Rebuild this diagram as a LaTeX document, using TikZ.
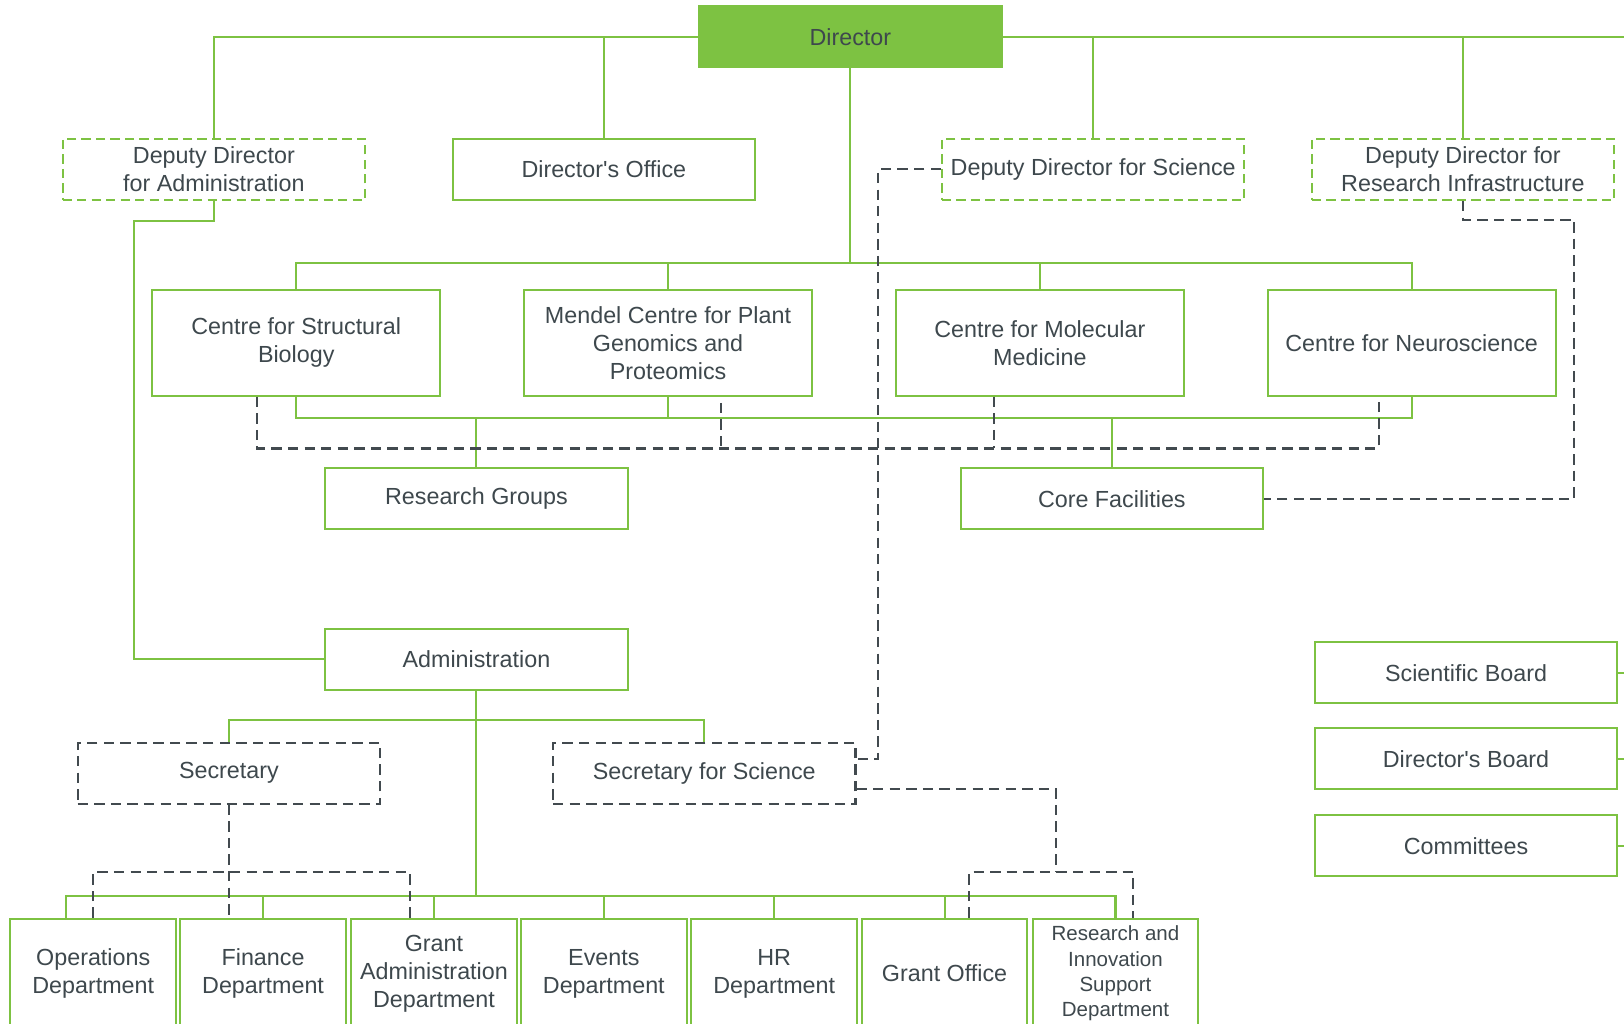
\documentclass[tikz,border=0pt]{standalone}
\usepackage{fontspec}
\setmainfont{Liberation Sans}[Ligatures=TeXOff]
\usetikzlibrary{calc}
\definecolor{lgreen}{RGB}{125,194,66}
\definecolor{txt}{RGB}{62,72,77}
\definecolor{dgray}{RGB}{66,74,79}
\newcommand\fsbig{\fontsize{22.5pt}{27pt}\selectfont}
\newcommand\fssmall{\fontsize{19.8pt}{24.5pt}\selectfont}
\tikzset{
  gbox/.style={draw=lgreen, line width=2pt, text=txt, align=center, inner sep=0pt, font=\fsbig},
  gdbox/.style={gbox, dash pattern=on 9pt off 5pt},
  kbox/.style={gbox, draw=dgray, line width=2pt, dash pattern=on 10pt off 6pt},
  wide/.style={minimum width=292pt, minimum height=59pt},
  centre/.style={minimum width=278pt, minimum height=102pt},
  dept/.style={minimum width=160pt, minimum height=106pt},
  gline/.style={draw=lgreen, line width=2pt},
  kline/.style={draw=dgray, line width=2pt, dash pattern=on 10pt off 6pt},
}
\begin{document}
\begin{tikzpicture}[x=1pt, y=-1pt]
\clip (0,0) rectangle (1568,988);
\fill[white] (0,0) rectangle (1568,988);

% nodes
\node[gbox, wide, fill=lgreen] (dir) at (821,35.5) {Director};
\node[gdbox, wide] (dda) at (206.5,163.5) {Deputy Director\\for Administration};
\node[gbox, wide] (dof) at (583,163.5) {Director's Office};
\node[gdbox, wide] (dds) at (1055.5,163.5) {Deputy Director for Science};
\node[gdbox, wide] (ddr) at (1412.5,163.5) {Deputy Director for\\Research Infrastructure};

\node[gbox, centre] (csb) at (286,331) {Centre for Structural\\Biology};
\node[gbox, centre] (cmp) at (645,331) {Mendel Centre for Plant\\Genomics and\\Proteomics};
\node[gbox, centre] (cmm) at (1004,331) {Centre for Molecular\\Medicine};
\node[gbox, centre] (cnr) at (1363,331) {Centre for Neuroscience};

\node[gbox, wide] (rg) at (460,481.5) {Research Groups};
\node[gbox, wide] (cf) at (1073.5,481.5) {Core Facilities};

\node[gbox, wide] (adm) at (460,636.5) {Administration};
\node[kbox, wide] (sec) at (221,746.5) {Secretary};
\node[kbox, wide] (ssci) at (680,746.5) {Secretary for Science};

\node[gbox, wide] (sb) at (1415.5,649.5) {Scientific Board};
\node[gbox, wide] (dbd) at (1415.5,732.5) {Director's Board};
\node[gbox, wide] (com) at (1415.5,816.5) {Committees};

\node[gbox, dept] (ops) at (90,940) {Operations\\Department};
\node[gbox, dept] (fin) at (254,940) {Finance\\Department};
\node[gbox, dept] (ga) at (419,940) {Grant\\Administration\\Department};
\node[gbox, dept] (ev) at (583,940) {Events\\Department};
\node[gbox, dept] (hr) at (747.5,940) {HR\\Department};
\node[gbox, dept] (go) at (912,940) {Grant Office};
\node[gbox, dept, font=\fssmall] (ri) at (1077,940) {Research and\\Innovation\\Support\\Department};

% coordinates
\coordinate (topx) at (1580,35.5);
\coordinate (cbus) at (821,254);
\coordinate (rbus) at (460,404);
\coordinate (dbus) at (700,433);
\coordinate (ak) at (129,213);
\coordinate (sk) at (848,733);
\coordinate (rk) at (1520,481.5);
\coordinate (sbus) at (460,695);
\coordinate (bbus) at (460,865);
\coordinate (dk) at (221,842);
\coordinate (gk) at (1020,842);
\coordinate (sbx) at (1580,649.5);
\coordinate (dbx) at (1580,732.5);
\coordinate (cmx) at (1580,816.5);
\coordinate (csbd) at ($(csb.south)+(-38,0)$);
\coordinate (cmpd) at ($(cmp.south)+(51,6)$);
\coordinate (cmmd) at ($(cmm.south)+(-44,0)$);
\coordinate (cnrd) at ($(cnr.south)+(-32,0)$);
\coordinate (opsg) at ($(ops.north)+(-26,0)$);
\coordinate (gad) at ($(ga.north)+(-23,0)$);
\coordinate (god) at ($(go.north)+(24,0)$);
\coordinate (rid) at ($(ri.north)+(17,0)$);
\coordinate (sscd) at ($(ssci.south east)+(0,-15)$);

% top level green connectors
\draw[gline] (dir.west) -| (dda.north);
\draw[gline] (dof.north) |- (dir.west);
\draw[gline] (dir.east) -- (topx);
\draw[gline] (dds.north) |- (dir.east);
\draw[gline] (ddr.north) |- (dir.east);
\draw[gline] (dir.south) -- (cbus);
\draw[gline] (csb.north) |- (cbus) -| (cnr.north);
\draw[gline] (cmp.north) |- (cbus);
\draw[gline] (cmm.north) |- (cbus);

% centres to research groups / core facilities
\draw[gline] (csb.south) |- (rbus);
\draw[gline] (cnr.south) |- (rbus);
\draw[gline] (cmp.south) -- (cmp.south |- rbus);
\draw[gline] (rg.north) -- (rg.north |- rbus);
\draw[gline] (cf.north) -- (cf.north |- rbus);

% dashed centre bus
\draw[kline] (csbd) |- (dbus) -| (cnrd);
\draw[kline] (cmpd) -- (cmpd |- dbus);
\draw[kline] (cmmd) -- (cmmd |- dbus);

% deputy admin to administration
\draw[gline] (dda.south) |- (ak) |- (adm.west);

% deputy science dashed to secretary for science
\draw[kline] (dds.west) -| (sk) -- (sk -| ssci.east);

% deputy research infrastructure dashed to core facilities
\draw[kline] (ddr.south) -- ++(0,18) -| (rk) -- (cf.east);

% administration tree
\draw[gline] (adm.south) -- (bbus);
\draw[gline] (sec.north) |- (sbus) -| (ssci.north);
\draw[gline] (opsg) |- (bbus) -| (ri.north);
\draw[gline] (fin.north) -- (fin.north |- bbus);
\draw[gline] (ga.north) -- (ga.north |- bbus);
\draw[gline] (ev.north) -- (ev.north |- bbus);
\draw[gline] (hr.north) -- (hr.north |- bbus);
\draw[gline] (go.north) -- (go.north |- bbus);

% secretary dashed
\draw[kline] (sec.south) -- (sec.south |- fin.north);
\draw[kline] (ops.north) |- (dk) -| (gad);

% secretary for science dashed
\draw[kline] (sscd) -| (gk);
\draw[kline] (god) |- (gk) -| (rid);

% boards stubs
\draw[gline] (sb.east) -- (sbx);
\draw[gline] (dbd.east) -- (dbx);
\draw[gline] (com.east) -- (cmx);
\end{tikzpicture}
\end{document}
